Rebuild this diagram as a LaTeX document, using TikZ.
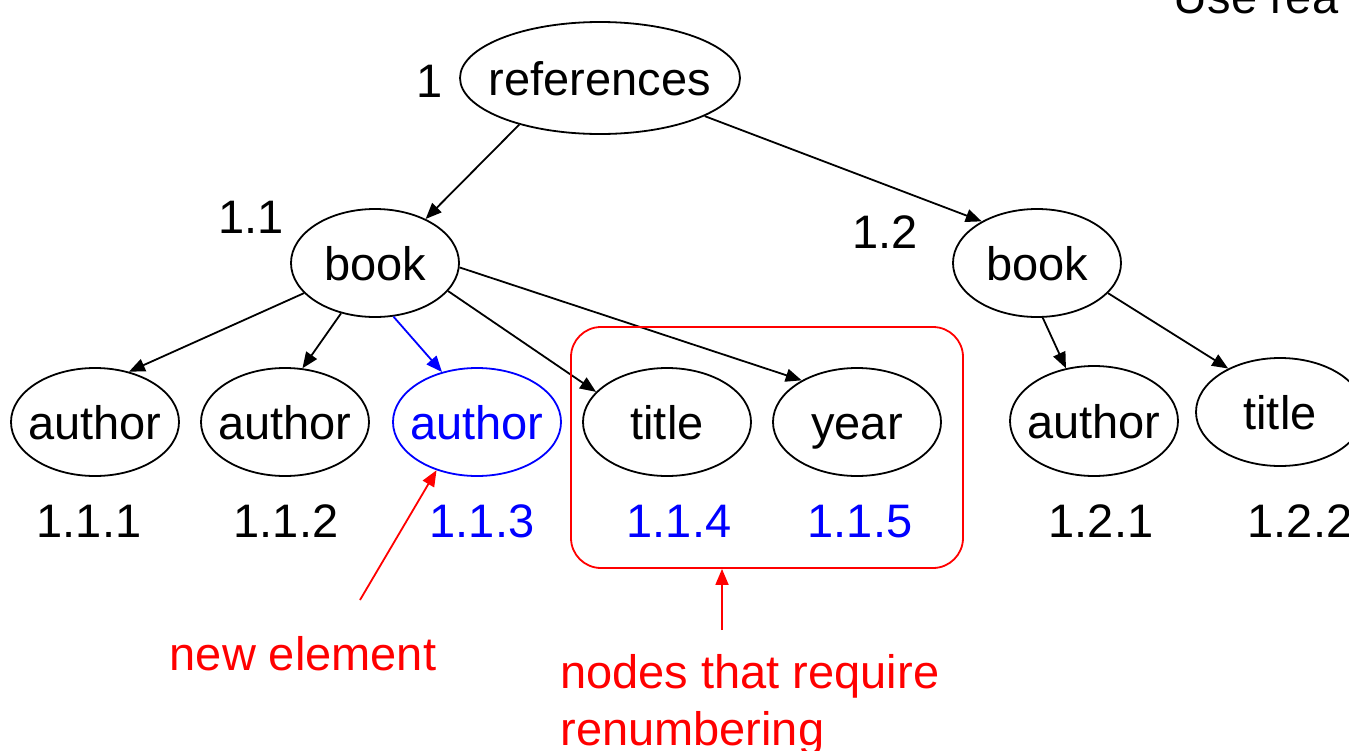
\documentclass[tikz,border=0pt]{standalone}
\usepackage{fontspec}
\setmainfont{Liberation Sans}
\usetikzlibrary{shapes.geometric, arrows.meta}

\begin{document}
\begin{tikzpicture}[x=0.5pt,y=-0.5pt,
  elem/.style={ellipse, draw=black, line width=0.9pt, inner xsep=-7pt, inner ysep=0pt, minimum width=84pt, minimum height=54pt, text height=17pt, text depth=0pt, font=\fontsize{23.5}{28}\selectfont},
  num/.style={anchor=base, inner sep=0pt, font=\fontsize{23.5}{28}\selectfont},
  link/.style={line width=0.9pt, -{Triangle[length=8pt,width=6.5pt]}}]
\useasboundingbox (0,0) rectangle (1349,750);
% tree
\node[elem, minimum width=140pt, minimum height=56pt] (refs) at (600,78) {references};
\node[elem] (book1) at (375,263) {book};
\node[elem] (book2) at (1037,263) {book};
\node[elem] (a1) at (95,422) {author};
\node[elem] (a2) at (285,422) {author};
\node[elem, draw=blue, text=blue] (a3) at (477,422) {author};
\node[elem] (t1) at (667,422) {title};
\node[elem] (y1) at (857,422) {year};
\node[elem, minimum height=55pt] (a4) at (1094,421) {author};
\node[elem] (t2) at (1280,412) {title};
\draw[link] (refs.210) -- (book1.41);
\draw[link] (refs.-20) -- (book2.143);
\draw[link] (book1.203) -- (a1.56);
\draw[link] (book1.236) -- (a2.72);
\draw[link, blue] (book1.289) -- (a3.125);
\draw[link] (book1.339) -- (t1.157);
\draw[link] (book1.357) -- (y1.143);
\draw[link] (book2.276) -- (a4.118);
\draw[link] (book2.337) -- (t2.140);
% numbers
\node[num] (n1) at (430,97) {1};
\node[num] (n11) at (251,233) {1.1};
\node[num] (n12) at (885,248) {1.2};
\node[num] (n111) at (89,537) {1.1.1};
\node[num] (n112) at (286,537) {1.1.2};
\node[num, text=blue] (n113) at (482,537) {1.1.3};
\node[num, text=blue] (n114) at (679,537) {1.1.4};
\node[num, text=blue] (n115) at (860,537) {1.1.5};
\node[num] (n121) at (1101,537) {1.2.1};
\node[num] (n122) at (1300,537) {1.2.2};
\node[num] (userea) at (1256,13) {Use rea};
% notes
\node[draw=red, line width=0.9pt, rounded corners=15pt, minimum width=196pt, minimum height=120.5pt, inner sep=0pt] (renum) at (767,447.5) {};
\node[num, text=red] (newel) at (303,670) {new element};
\node[num, text=red, anchor=base west] (renumtxt) at (560,688) {nodes that require};
\node[num, text=red, anchor=base west] (renumtxt2) at (560,745) {renumbering};
\coordinate (newtail) at (360,600);
\coordinate (renumtail) at (722,630);
\draw[link, red] (newtail) -- (a3.230);
\draw[link, red] (renumtail) -- (renumtail |- renum.south);
\end{tikzpicture}
\end{document}
